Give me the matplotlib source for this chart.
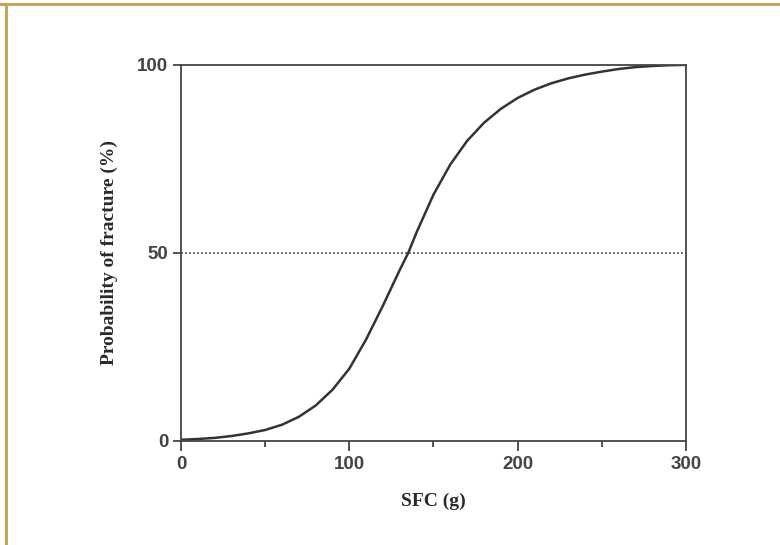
import matplotlib.pyplot as plt
from matplotlib.lines import Line2D

# fracture probability curve, values read at SFC steps
sfc = [0, 10, 20, 30, 40, 50, 60, 70, 80, 90, 100, 110, 120, 130, 135,
       140, 150, 160, 170, 180, 190, 200, 210, 220, 230, 240, 250, 260,
       270, 280, 290, 300]
prob = [0.3, 0.5, 0.8, 1.3, 2.0, 2.9, 4.3, 6.4, 9.4, 13.6, 19.2, 27.0,
        36.0, 45.5, 50.0, 55.5, 65.5, 73.5, 79.8, 84.6, 88.3, 91.2, 93.4,
        95.1, 96.4, 97.4, 98.2, 98.9, 99.4, 99.7, 99.9, 100.0]

x_ticks = [0, 100, 200, 300]
x_minor = [50, 150, 250]
y_ticks = [0, 50, 100]
half = 50

fig = plt.figure(figsize=(7.8, 5.45), dpi=100)
ax = fig.add_axes([0.232, 0.191, 0.6475, 0.690])

ax.plot(sfc, prob, color='#333333', linewidth=1.8, solid_capstyle='round',
        solid_joinstyle='round')
ax.axhline(half, color='#555555', linewidth=1.2, linestyle=(0, (1.2, 1.2)))

ax.set_xlim(0, 300)
ax.set_ylim(0, 100)
ax.set_xticks(x_ticks)
ax.set_xticks(x_minor, minor=True)
ax.set_yticks(y_ticks)

tick_font = dict(family='Liberation Sans', weight='bold', size=13.5)
ax.set_xticklabels([str(v) for v in x_ticks], fontdict=tick_font, color='#444444')
ax.set_yticklabels([str(v) for v in y_ticks], fontdict=tick_font, color='#444444')
ax.tick_params(axis='y', which='major', direction='out', length=6,
               width=1.3, color='#444444', pad=3)
ax.tick_params(axis='x', which='major', direction='out', length=7,
               width=1.3, color='#444444', pad=4)
ax.tick_params(axis='x', which='minor', direction='out', length=4,
               width=1.3, color='#444444')

for s in ax.spines.values():
    s.set_color('#444444')
    s.set_linewidth(1.3)

label_font = dict(family='Liberation Serif', weight='bold', size=14)
ax.set_xlabel('SFC (g)', fontdict=label_font, color='#2a2a2a', labelpad=14)
ax.set_ylabel('Probability of fracture (%)', fontdict=label_font,
              color='#2a2a2a', labelpad=14)

# gold frame lines along the top and left edge
gold = '#C6A55E'
fig.add_artist(Line2D([0.0, 1.0], [0.992, 0.992], transform=fig.transFigure,
                      color=gold, linewidth=2.2))
fig.add_artist(Line2D([0.0077, 0.0077], [0.0, 0.992], transform=fig.transFigure,
                      color=gold, linewidth=2.2))

fig.savefig('out.png', dpi=100)
